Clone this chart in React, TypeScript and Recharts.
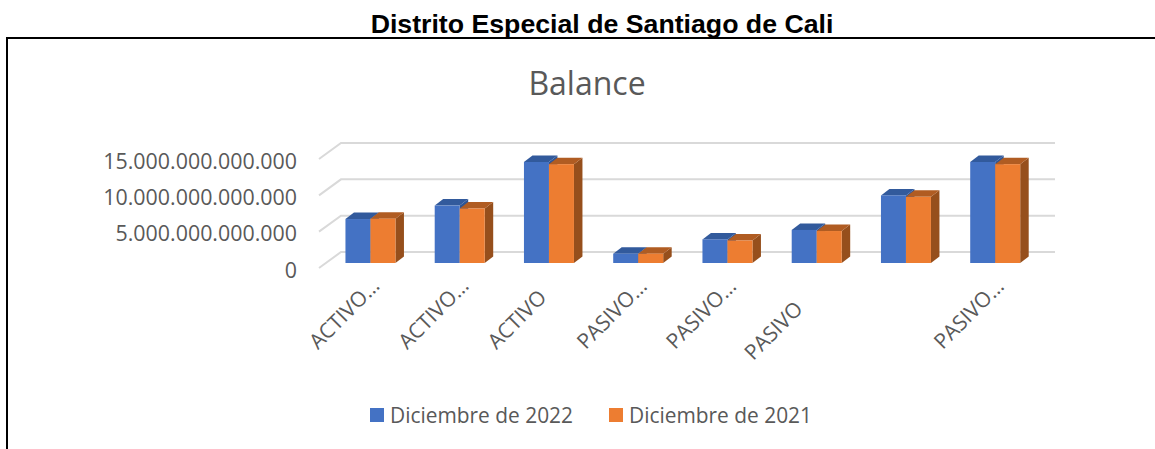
import { Bar, BarChart, CartesianGrid, Legend, Text, XAxis, YAxis } from "recharts"

const categories = ["ACTIVO…", "ACTIVO…", "ACTIVO", "PASIVO…", "PASIVO…", "PASIVO", "", "PASIVO…"]
const dic2022 = [6.05e12, 7.9e12, 13.9e12, 1.28e12, 3.25e12, 4.55e12, 9.3e12, 13.9e12]
const dic2021 = [6.1e12, 7.5e12, 13.6e12, 1.28e12, 3.1e12, 4.4e12, 9.1e12, 13.6e12]
const yTicks = [0, 5e12, 10e12, 15e12]

const data = categories.map((name, i) => ({
  id: i,
  name,
  dic2022: dic2022[i],
  dic2021: dic2021[i],
}))

const FONT = '"Open Sans", sans-serif'
const TEXT_COLOR = "#595959"

const formatTick = (v: number) => String(v).replace(/\B(?=(\d{3})+(?!\d))/g, ".")

// excel style 3d column: front face plus top and side parallelograms
function Bar3D({ x, y, width, height, fill, topFill, sideFill }: any) {
  const dx = 8.5
  const dy = 6.5
  return (
    <g>
      <path d={`M${x + width},${y} l${dx},${-dy} v${height} l${-dx},${dy} z`} fill={sideFill} />
      <path d={`M${x},${y} l${dx},${-dy} h${width} l${-dx},${dy} z`} fill={topFill} />
      <rect x={x} y={y} width={width} height={height} fill={fill} />
    </g>
  )
}

// grid sits on the back wall, with a slanted stub on the side wall
function WallLine({ x1, x2, y1 }: any) {
  return (
    <path
      d={`M${x1 - 7},${y1 + 5} L${x1 + 15},${y1 - 11} H${x2 + 15}`}
      fill="none"
      stroke="#d9d9d9"
      strokeWidth={2}
    />
  )
}

function YTick({ x, y, payload }: any) {
  return (
    <text x={x} y={y + 14.5} textAnchor="end" fontFamily={FONT} fontSize={21.4} fill={TEXT_COLOR}>
      {formatTick(payload.value)}
    </text>
  )
}

function XTick({ x, y, index }: any) {
  const label = categories[index]
  // the plain PASIVO label sits further down the slope in the original
  const shift = label === "PASIVO" ? 11 : 0
  return (
    <Text
      x={x - 58 - shift}
      y={y + 74 + shift}
      angle={-45}
      textAnchor="start"
      verticalAnchor="middle"
      fontFamily={FONT}
      fontSize={21}
      fill={TEXT_COLOR}
    >
      {label}
    </Text>
  )
}

function LegendRow({ payload }: any) {
  return (
    <div style={{ display: "flex", fontFamily: FONT, fontSize: 20.9, color: TEXT_COLOR, lineHeight: "28px", whiteSpace: "nowrap" }}>
      {(payload || []).map((item: any) => (
        <div key={item.value} style={{ display: "flex", alignItems: "center", marginRight: 36 }}>
          <span style={{ width: 14, height: 14, background: item.color, marginRight: 6 }} />
          {item.value}
        </div>
      ))}
    </div>
  )
}

export default function App() {
  return (
    <div style={{ position: "absolute", left: 0, top: 0, width: 1155, height: 449, background: "#fff", overflow: "hidden" }}>
      <div
        style={{
          position: "absolute",
          left: 0,
          width: 1204,
          top: 9,
          textAlign: "center",
          fontFamily: '"Liberation Sans", sans-serif',
          fontWeight: "bold",
          fontSize: 26.7,
          lineHeight: "30px",
          color: "#000",
        }}
      >
        Distrito Especial de Santiago de Cali
      </div>
      <div
        style={{
          position: "absolute",
          left: 6,
          top: 37,
          width: 1155,
          height: 430,
          border: "2px solid #000",
          boxSizing: "border-box",
        }}
      />
      <div
        style={{
          position: "absolute",
          left: 0,
          width: 1174,
          top: 61,
          textAlign: "center",
          fontFamily: FONT,
          fontSize: 32,
          color: TEXT_COLOR,
        }}
      >
        Balance
      </div>
      <div style={{ position: "absolute", left: 0, top: 0 }}>
        <BarChart
          width={1155}
          height={449}
          data={data}
          margin={{ top: 154, right: 115, bottom: 0, left: 0 }}
          barCategoryGap="21.8%"
          barGap={0}
        >
          <CartesianGrid vertical={false} horizontal={(p: any) => <WallLine key={p.y1} {...p} />} />
          <XAxis dataKey="id" height={186} axisLine={false} tickLine={false} interval={0} tick={<XTick />} />
          <YAxis
            width={326}
            domain={[0, 15e12]}
            ticks={yTicks}
            axisLine={false}
            tickLine={false}
            tickSize={0}
            tickMargin={29}
            tick={<YTick />}
          />
          <Legend
            content={<LegendRow />}
            itemSorter={null}
            wrapperStyle={{ position: "absolute", left: 370, top: 401, width: "auto", height: 0 }}
          />
          <Bar
            dataKey="dic2022"
            name="Diciembre de 2022"
            fill="#4472c4"
            isAnimationActive={false}
            shape={<Bar3D topFill="#325a9c" sideFill="#2e5596" />}
          />
          <Bar
            dataKey="dic2021"
            name="Diciembre de 2021"
            fill="#ed7d31"
            isAnimationActive={false}
            shape={<Bar3D topFill="#b05c22" sideFill="#964f1c" />}
          />
        </BarChart>
      </div>
    </div>
  )
}
